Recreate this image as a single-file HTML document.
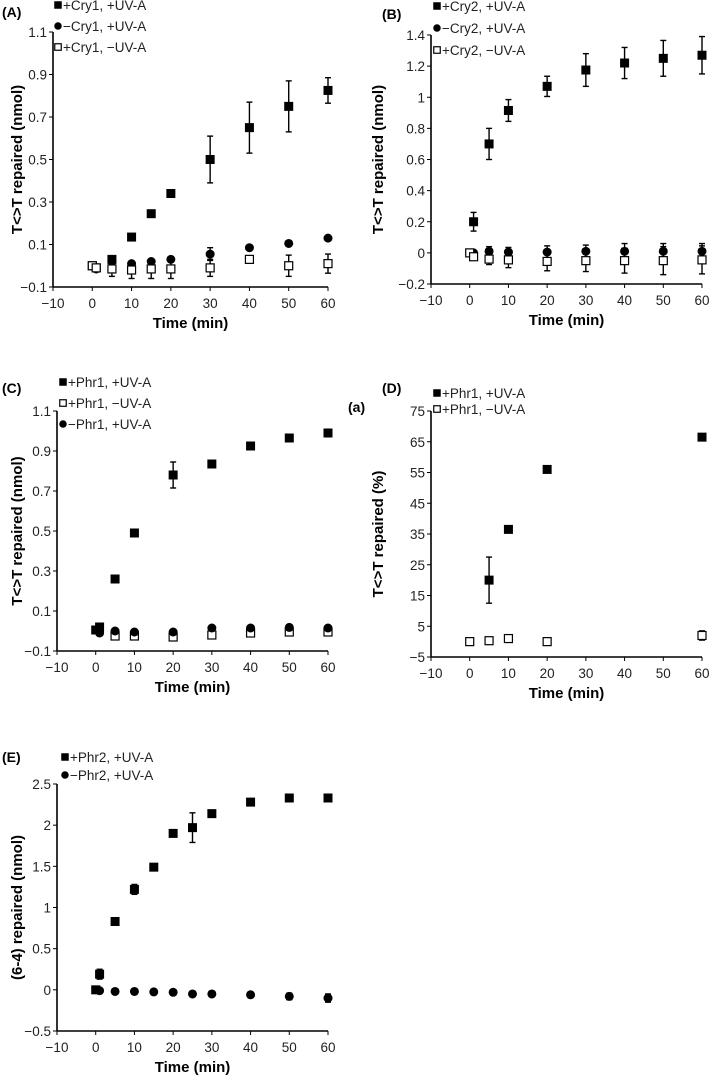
<!DOCTYPE html>
<html><head><meta charset="utf-8"><style>
html,body{margin:0;padding:0;background:#fff;}
svg{display:block;font-family:"Liberation Sans",Arial,sans-serif;}
</style></head>
<body>
<svg id="fig" width="709" height="1080" viewBox="0 0 709 1080" xmlns="http://www.w3.org/2000/svg"></svg>
<script>
// ---- Data ----
const xTicks = [-10,0,10,20,30,40,50,60];
// Panel A
const aTicks = [-0.1,0.1,0.3,0.5,0.7,0.9,1.1];
const aS1x = [0,1,5,10,15,20,30,40,50,60];
const aS1y = [0,-0.01,0.03,0.135,0.245,0.34,0.50,0.65,0.75,0.825];
const aS1e = [0,0,0,0,0,0,0.11,0.12,0.12,0.06];
const aS2x = [1,5,10,15,20,30,40,50,60];
const aS2y = [-0.015,0.02,0.01,0.02,0.03,0.055,0.085,0.105,0.13];
const aS2e = [0,0,0,0,0,0.03,0,0,0];
const aS3x = [0,1,5,10,15,20,30,40,50,60];
const aS3y = [0,-0.01,-0.015,-0.02,-0.015,-0.015,-0.01,0.03,0,0.01];
const aS3e = [0,0,0.035,0.04,0.045,0.045,0.04,0,0.05,0.045];
// Panel B
const bTicks = [-0.2,0,0.2,0.4,0.6,0.8,1,1.2,1.4];
const bS1x = [1,5,10,20,30,40,50,60];
const bS1y = [0.2,0.7,0.915,1.07,1.175,1.22,1.25,1.27];
const bS1e = [0.06,0.1,0.07,0.065,0.105,0.1,0.115,0.12];
const bS2x = [1,5,10,20,30,40,50,60];
const bS2y = [0,0.01,0.005,0.005,0.01,0.01,0.01,0.01];
const bS2e = [0,0.03,0.03,0.04,0.04,0.05,0.05,0.05];
const bS3x = [0,1,5,10,20,30,40,50,60];
const bS3y = [0,-0.025,-0.04,-0.045,-0.055,-0.05,-0.05,-0.05,-0.045];
const bS3e = [0,0,0.035,0.05,0.06,0.07,0.08,0.09,0.09];
// Panel C
const cTicks = [-0.1,0.1,0.3,0.5,0.7,0.9,1.1];
const cS1x = [0,1,5,10,20,30,40,50,60];
const cS1y = [0.005,0.02,0.26,0.49,0.78,0.835,0.925,0.965,0.99];
const cS1e = [0,0,0,0,0.065,0,0,0,0];
const cS2x = [5,10,20,30,40,50,60];
const cS2y = [-0.025,-0.025,-0.03,-0.02,-0.01,-0.005,-0.005];
const cS2e = [0,0,0,0,0,0,0];
const cS3x = [1,5,10,20,30,40,50,60];
const cS3y = [-0.01,0,-0.005,-0.005,0.015,0.015,0.018,0.015];
const cS3e = [0,0,0,0,0,0,0,0];
// Panel D
const dTicks = [-5,5,15,25,35,45,55,65,75];
const dS1x = [5,10,20,60];
const dS1y = [20,36.5,56,66.5];
const dS1e = [7.5,0,0,0];
const dS2x = [0,5,10,20,60];
const dS2y = [0,0.3,1,0,2];
const dS2e = [0,0,0,0,1.5];
// Panel E
const eTicks = [-0.5,0,0.5,1,1.5,2,2.5];
const eTickLabels = ["\u22120.5","0","0.5","1","1.5","2","2.5"];
const eS1x = [0,1,5,10,15,20,25,30,40,50,60];
const eS1y = [0,0.19,0.83,1.22,1.49,1.9,1.97,2.14,2.28,2.33,2.33];
const eS1e = [0,0.06,0,0.06,0,0,0.18,0,0,0,0];
const eS2x = [1,5,10,15,20,25,30,40,50,60];
const eS2y = [-0.01,-0.02,-0.02,-0.025,-0.03,-0.05,-0.05,-0.06,-0.08,-0.1];
const eS2e = [0,0,0,0,0,0,0,0.03,0.04,0.05];

const NS="http://www.w3.org/2000/svg";
const svg=document.getElementById('fig');
function el(tag,attrs,parent,text){const e=document.createElementNS(NS,tag);for(const k in attrs)e.setAttribute(k,attrs[k]);if(text!==undefined)e.textContent=text;(parent||svg).appendChild(e);return e;}
function fmt(v){let s=String(Math.round(v*100)/100);return s.replace('-','\u2212');}

function panel(cfg){
  const g=el('g',{});
  
  
  const xs=v=>cfg.x0+(v-(-10))/70*(cfg.x1-cfg.x0);
  const ys=v=>cfg.y0+(v-cfg.ymin)/(cfg.ymax-cfg.ymin)*(cfg.y1-cfg.y0);
  const ya=el('line',{x1:cfg.x0,y1:cfg.y0,x2:cfg.x0,y2:cfg.y1,stroke:'#000','stroke-width':1.6},g);
  
  
  const xa=el('line',{x1:cfg.x0,y1:cfg.y0,x2:cfg.x1,y2:cfg.y0,stroke:'#000','stroke-width':1.6},g);
  
  
  cfg.ticks.forEach((t,i)=>{
    const y=ys(t);
    el('line',{x1:cfg.x0-4,y1:y,x2:cfg.x0,y2:y,stroke:'#000','stroke-width':1},g);
    const tx=el('text',{x:cfg.x0-6,y:y+5,'font-size':13.5,'text-anchor':'end',fill:'#222'},g,cfg.labels?cfg.labels[i]:fmt(t));
    
    
  });
  xTicks.forEach(t=>{
    const x=xs(t);
    el('line',{x1:x,y1:cfg.y0,x2:x,y2:cfg.y0+4,stroke:'#000','stroke-width':1},g);
    const tx=el('text',{x:x,y:cfg.y0+21,'font-size':13.5,'text-anchor':'middle',fill:'#222'},g,fmt(t));
    
    
  });
  const xt=el('text',{x:(cfg.x0+cfg.x1)/2,y:cfg.y0+41,'font-size':15,'font-weight':'bold','text-anchor':'middle'},g,'Time (min)');
  
  
  const cy=(cfg.y0+cfg.y1)/2;
  const yt=el('text',{x:cfg.ytx,y:cy,'font-size':15,'font-weight':'bold','text-anchor':'middle',transform:`rotate(-90 ${cfg.ytx} ${cy})`},g,cfg.ytitle);
  
  
  const pl=el('text',{x:cfg.plx,y:cfg.ply,'font-size':14,'font-weight':'bold'},g,cfg.plabel);
  
  
  cfg.series.forEach((s,si)=>{
    const sg=el('g',{},g);
    
    
    s.x.forEach((xv,i)=>{
      const px=xs(xv),py=ys(s.y[i]),e=s.e[i];
      if(e>0){
        const a=ys(s.y[i]+e),b=ys(s.y[i]-e);
        el('line',{x1:px,y1:a,x2:px,y2:b,stroke:'#000','stroke-width':1.4},sg);
        el('line',{x1:px-3,y1:a,x2:px+3,y2:a,stroke:'#000','stroke-width':1.4},sg);
        el('line',{x1:px-3,y1:b,x2:px+3,y2:b,stroke:'#000','stroke-width':1.4},sg);
      }
      const m=marker(sg,s.m,px,py,9);
      
      
    });
    const ly=cfg.leg[1]+si*cfg.leg[2];
    const lm=marker(g,s.m,cfg.leg[0],ly,7.5);
    
    
    const lt=el('text',{x:cfg.leg[0]+5,y:ly+5,'font-size':13.5,fill:'#222'},g,s.label);
    
    
  });
}
function marker(g,type,x,y,s){
  if(type==='circle')return el('circle',{cx:x,cy:y,r:s/2,fill:'#000'},g);
  if(type==='open')return el('rect',{x:x-s/2+0.5,y:y-s/2+0.5,width:s-1,height:s-1,fill:'#fff',stroke:'#000','stroke-width':1.2},g);
  return el('rect',{x:x-s/2,y:y-s/2,width:s,height:s,fill:'#000'},g);
}

panel({name:'panel-a',x0:53,x1:328,y0:287,y1:32,ymin:-0.1,ymax:1.1,ticks:aTicks,ytitle:'T<>T repaired (nmol)',ytx:22,plabel:'(A)',plx:2,ply:17,leg:[58,5,21],
 series:[{key:'cry1-uva',m:'filled',label:'+Cry1, +UV-A',x:aS1x,y:aS1y,e:aS1e},
         {key:'no-cry1-uva',m:'circle',label:'\u2212Cry1, +UV-A',x:aS2x,y:aS2y,e:aS2e},
         {key:'cry1-no-uva',m:'open',label:'+Cry1, \u2212UV-A',x:aS3x,y:aS3y,e:aS3e}]});
panel({name:'panel-b',x0:431,x1:702,y0:284,y1:35,ymin:-0.2,ymax:1.4,ticks:bTicks,ytitle:'T<>T repaired (nmol)',ytx:383,plabel:'(B)',plx:382,ply:19,leg:[437,6,22],
 series:[{key:'cry2-uva',m:'filled',label:'+Cry2, +UV-A',x:bS1x,y:bS1y,e:bS1e},
         {key:'no-cry2-uva',m:'circle',label:'\u2212Cry2, +UV-A',x:bS2x,y:bS2y,e:bS2e},
         {key:'cry2-no-uva',m:'open',label:'+Cry2, \u2212UV-A',x:bS3x,y:bS3y,e:bS3e}]});
panel({name:'panel-c',x0:57,x1:328,y0:651,y1:411,ymin:-0.1,ymax:1.1,ticks:cTicks,ytitle:'T<>T repaired (nmol)',ytx:22,plabel:'(C)',plx:2,ply:393,leg:[63,382,21],
 series:[{key:'phr1-uva',m:'filled',label:'+Phr1, +UV-A',x:cS1x,y:cS1y,e:cS1e},
         {key:'phr1-no-uva',m:'open',label:'+Phr1, \u2212UV-A',x:cS2x,y:cS2y,e:cS2e},
         {key:'no-phr1-uva',m:'circle',label:'\u2212Phr1, +UV-A',x:cS3x,y:cS3y,e:cS3e}]});
panel({name:'panel-d',x0:431,x1:702,y0:657,y1:411,ymin:-5,ymax:75,ticks:dTicks,ytitle:'T<>T repaired (%)',ytx:383,plabel:'(D)',plx:382,ply:393,leg:[437,393,16],
 series:[{key:'phr1-uva-pct',m:'filled',label:'+Phr1, +UV-A',x:dS1x,y:dS1y,e:dS1e},
         {key:'phr1-no-uva-pct',m:'open',label:'+Phr1, \u2212UV-A',x:dS2x,y:dS2y,e:dS2e}]});
panel({name:'panel-e',x0:57,x1:328,y0:1031,y1:784,ymin:-0.5,ymax:2.5,ticks:eTicks,labels:eTickLabels,ytitle:'(6-4) repaired (nmol)',ytx:22,plabel:'(E)',plx:2,ply:762,leg:[65,757,18],
 series:[{key:'phr2-uva',m:'filled',label:'+Phr2, +UV-A',x:eS1x,y:eS1y,e:eS1e},
         {key:'no-phr2-uva',m:'circle',label:'\u2212Phr2, +UV-A',x:eS2x,y:eS2y,e:eS2e}]});
const a=el('text',{x:348,y:412,'font-size':14,'font-weight':'bold'},svg,'(a)');


</script>
</body></html>
